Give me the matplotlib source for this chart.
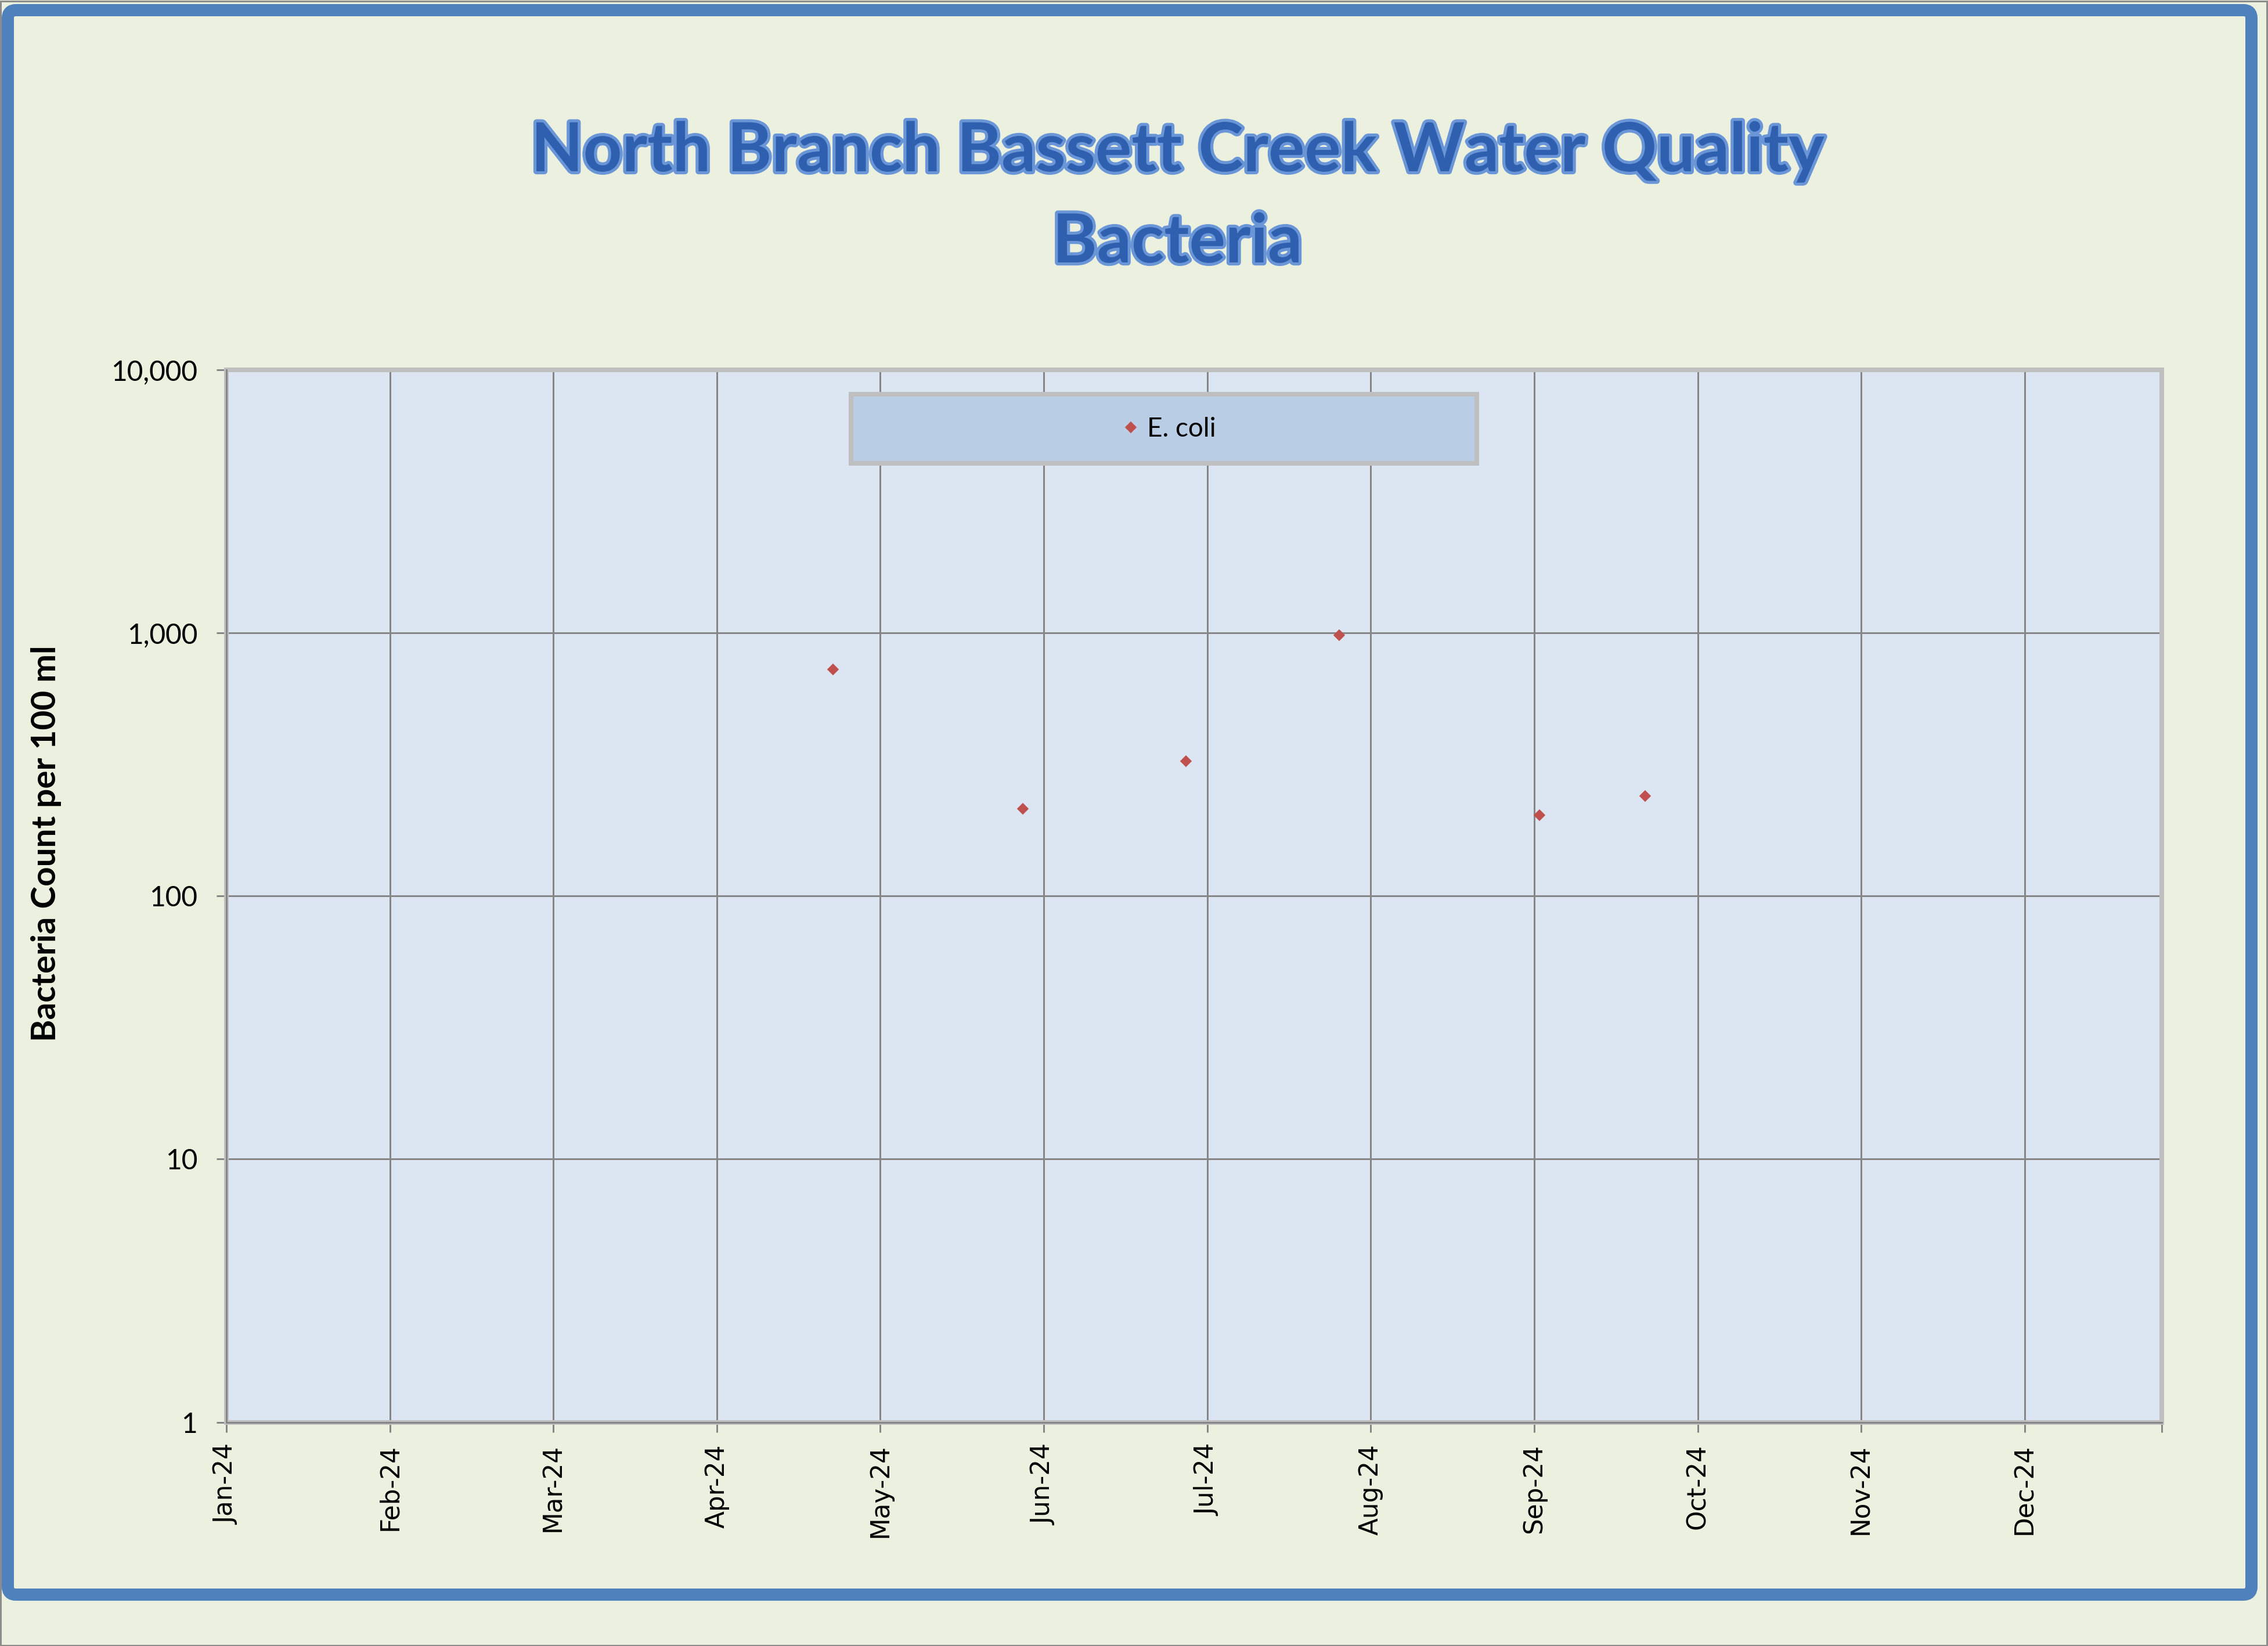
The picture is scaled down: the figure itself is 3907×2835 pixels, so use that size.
"""
North Branch Bassett Creek water quality - E. coli bacteria, 2024.
Log scale scatter in the old Excel chart style.
"""
import matplotlib
matplotlib.use('Agg')
import matplotlib.pyplot as plt
import matplotlib.dates as mdates
import matplotlib.patheffects as pe
from matplotlib.patches import FancyBboxPatch, Rectangle
from matplotlib.ticker import FixedLocator, FuncFormatter, NullLocator
from datetime import datetime, timedelta

# sample dates and E. coli counts (per 100 ml)
sample_dates = ['2024-04-25', '2024-05-31', '2024-07-01',
                '2024-07-30', '2024-09-06', '2024-09-26']
ecoli = [725, 215, 325, 980, 203, 240]

title_lines = ['North Branch Bassett Creek Water Quality', 'Bacteria']
y_label = 'Bacteria Count per 100 ml'
series_name = 'E. coli'
y_ticks = [1, 10, 100, 1000, 10000]

axis_start = datetime(2024, 1, 1)
axis_end = datetime(2025, 1, 2)
tick_step = 31  # days, major unit of the date axis
n_ticks = 12

# colours (Office 2007 theme)
fig_bg = '#EBF1DE'
plot_bg = '#DCE6F2'
legend_bg = '#B9CDE5'
frame_grey = '#BFBFBF'
grid_grey = '#868686'
border_blue = '#4F81BD'
marker_red = '#C0504D'

W, H, DPI = 3907, 2835, 300
px = 72 / DPI  # one pixel in points

fig = plt.figure(figsize=(W / DPI, H / DPI), dpi=DPI, facecolor=fig_bg)

# background layer in pixel coordinates for the chart border
bg = fig.add_axes([0, 0, 1, 1], zorder=0)
bg.set_xlim(0, W)
bg.set_ylim(0, H)
bg.axis('off')
bg.add_patch(Rectangle((1.5, 1.5), W - 3, H - 3, fc='none',
                       ec='#8C8C8C', lw=3 * px))
bg.add_patch(FancyBboxPatch((13.5, 88.5), 3865, 2729,
                            boxstyle='round,pad=0,rounding_size=14',
                            fc='none', ec=border_blue, lw=21 * px))

# plot area
left, right, top, bottom = 390, 3724, 637, 2449.5
ax = fig.add_axes([left / W, 1 - bottom / H, (right - left) / W, (bottom - top) / H],
                  zorder=1)
ax.set_facecolor(plot_bg)

dates = [datetime.strptime(d, '%Y-%m-%d') for d in sample_dates]
ax.plot(dates, ecoli, linestyle='none', marker='D', markersize=3,
        color=marker_red, markeredgecolor=marker_red, markeredgewidth=0.4,
        label=series_name, zorder=5, clip_on=False)

ax.set_yscale('log')
ax.set_ylim(1, 10000)
ax.yaxis.set_major_locator(FixedLocator(y_ticks))
ax.yaxis.set_minor_locator(NullLocator())
ax.yaxis.set_major_formatter(FuncFormatter(lambda v, pos: f'{v:,.0f}'))

ax.set_xlim(axis_start, axis_end)
xticks = [mdates.date2num(axis_start + timedelta(days=tick_step * k)) for k in range(n_ticks)]
ax.xaxis.set_major_locator(FixedLocator(xticks))
ax.xaxis.set_minor_locator(FixedLocator([mdates.date2num(axis_end)]))
ax.xaxis.set_major_formatter(mdates.DateFormatter('%b-%y'))

ax.grid(True, which='major', color=grid_grey, linewidth=3 * px, zorder=1)
ax.set_axisbelow(True)

for s in ax.spines.values():
    s.set_color(frame_grey)
    s.set_linewidth(8 * px)
# darker axis lines on the left and bottom
ax.plot([0, 1], [0, 0], transform=ax.transAxes, color=grid_grey,
        lw=3 * px, clip_on=False, zorder=6)
ax.plot([0, 0], [0, 1], transform=ax.transAxes, color=grid_grey,
        lw=3 * px, clip_on=False, zorder=6)

ax.tick_params(axis='both', which='both', direction='out', length=4,
               width=3 * px, color=grid_grey)
ax.tick_params(axis='y', pad=8, labelsize=11.5)
ax.tick_params(axis='x', pad=5, labelsize=10.5, labelrotation=90)
for lab in ax.get_yticklabels():
    lab.set_fontfamily('Lato')
for lab in ax.get_xticklabels():
    lab.set_fontfamily('DejaVu Sans')

# legend box drawn like the Excel one, entry centred inside it
ax.add_patch(Rectangle((0.3227, 0.9112), 0.6461 - 0.3227, 0.9768 - 0.9112,
                       transform=ax.transAxes, fc=legend_bg, ec=frame_grey,
                       lw=8 * px, zorder=7))
leg = ax.legend(loc='center', bbox_to_anchor=(0.4865, 0.9437), frameon=False,
                handlelength=0.8, handletextpad=0.2, borderpad=0,
                prop={'family': 'Lato', 'size': 11})
leg.set_zorder(8)

# titles
title_fx = [pe.withStroke(linewidth=2.5, foreground='#6A95D6')]
fig.text(2028 / W, 1 - 295 / H, title_lines[0], ha='center', va='baseline',
         fontsize=28, fontweight='bold', family='Lato', color='#2F60B0',
         path_effects=title_fx)
fig.text(2028 / W, 1 - 452 / H, title_lines[1], ha='center', va='baseline',
         fontsize=28, fontweight='bold', family='Lato', color='#2F60B0',
         path_effects=title_fx)

fig.text(80 / W, 1 - 1453 / H, y_label, rotation=90, ha='center', va='center',
         fontsize=14, fontweight='bold', family='Lato', color='black')

fig.savefig('out.png', dpi=DPI, facecolor=fig_bg)
